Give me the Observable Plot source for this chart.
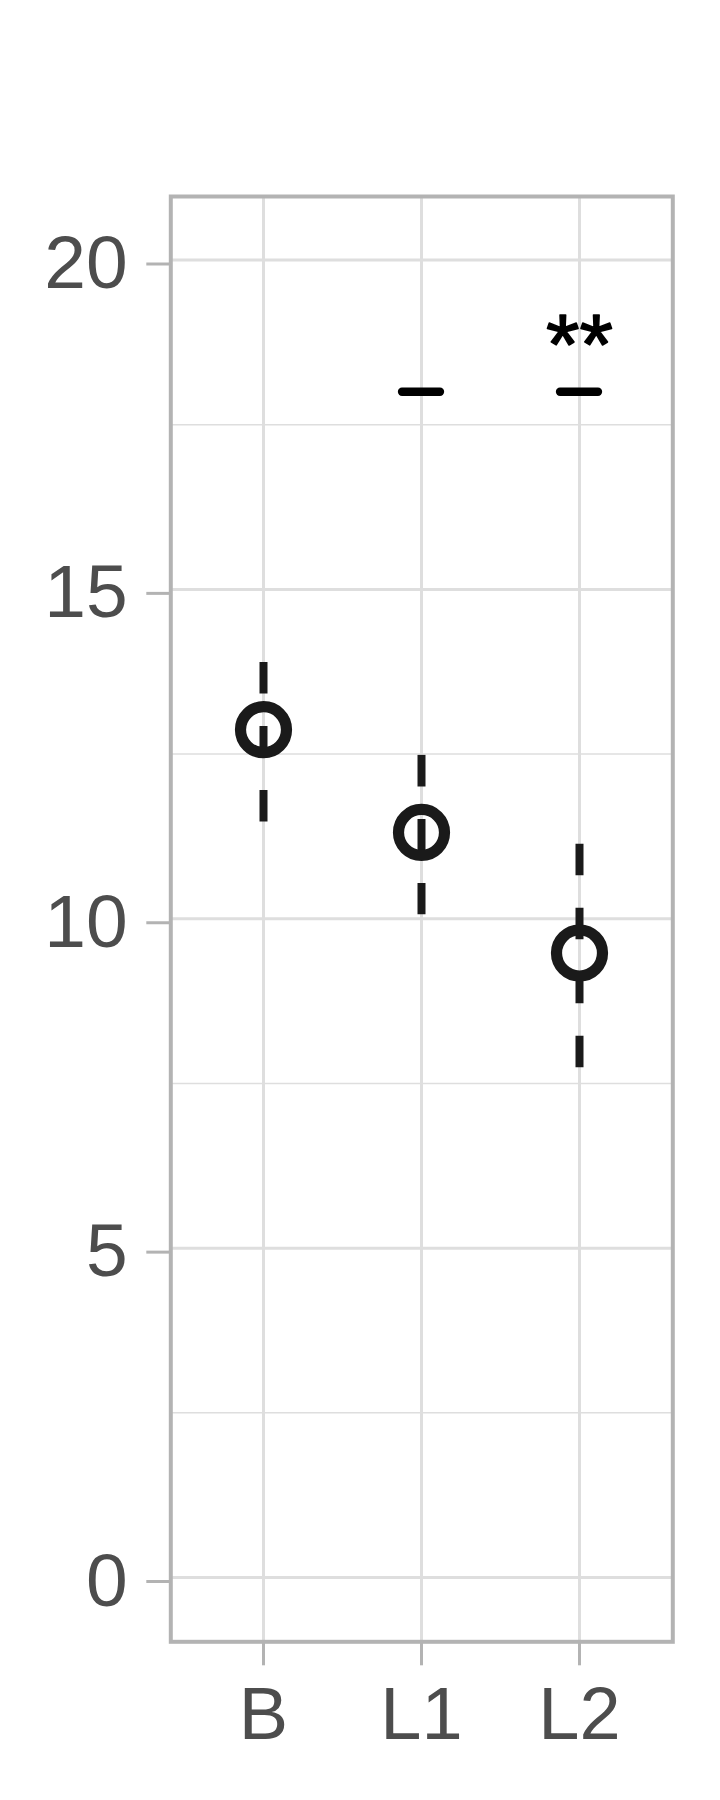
<!DOCTYPE html>
<html>
<head>
<meta charset="utf-8">
<script src="https://cdn.jsdelivr.net/npm/d3@7"></script>
<script src="https://cdn.jsdelivr.net/npm/@observablehq/plot@0.6"></script>
<style>
  html, body { margin: 0; padding: 0; background: #fff; }
  #chart svg { display: block; }
</style>
</head>
<body>
<div id="chart"></div>
<script>
// ---- data ----
const groups = ["B", "L1", "L2"];
const means = [12.87, 11.31, 9.48];
const lower = [11.47, 10.06, 7.73];
const upper = [13.89, 12.48, 11.13];

const sigGroups = ["L1", "L2"];
const sigLevel = [18, 18];

const starGroups = ["L2"];
const starLabels = ["**"];
const starLevel = [18.68];

const yMajor = [0, 5, 10, 15, 20];
const yMinor = [2.5, 7.5, 12.5, 17.5];
const yDomain = [-0.976, 20.964];

// ---- tables built from the arrays ----
const pts = groups.map((g, i) => ({group: g, mean: means[i], lo: lower[i], hi: upper[i]}));
const sig = sigGroups.map((g, i) => ({group: g, y: sigLevel[i]}));
const stars = starGroups.map((g, i) => ({group: g, y: starLevel[i], label: starLabels[i]}));

const grid = "#dedede";
const frameCol = "#b3b3b3";
const ink = "#1a1a1a";

const chart = Plot.plot({
  width: 720,
  height: 1800,
  marginLeft: 170.3,
  marginRight: 47.7,
  marginTop: 196,
  marginBottom: 158.7,
  style: {fontFamily: "'Liberation Sans', Arial, sans-serif", background: "#fff"},
  x: {type: "band", domain: groups, paddingInner: 0.76, paddingOuter: 0.4666, align: 0.5, label: null},
  y: {domain: yDomain, label: null},
  marks: [
    Plot.gridY(yMinor, {stroke: grid, strokeOpacity: 1, strokeWidth: 1.6}),
    Plot.gridY(yMajor, {stroke: grid, strokeOpacity: 1, strokeWidth: 3}),
    Plot.gridX(groups, {stroke: grid, strokeOpacity: 1, strokeWidth: 3}),
    Plot.ruleX(pts, {x: "group", y1: "hi", y2: "lo", stroke: ink, strokeWidth: 8,
      strokeDasharray: "31.5,32.5", strokeLinecap: "butt"}),
    Plot.dot(pts, {x: "group", y: "mean", r: 23, stroke: ink, strokeWidth: 11.2, fill: "none"}),
    Plot.tickY(sig, {x: "group", y: "y", stroke: "#000", strokeWidth: 8.3, strokeLinecap: "round"}),
    Plot.text(stars, {x: "group", y: "y", text: "label", fontSize: 86, fill: "#000",
      stroke: "#000", strokeWidth: 1.5, lineAnchor: "middle"}),
    Plot.frame({stroke: frameCol, strokeWidth: 4}),
    Plot.axisY(yMajor, {tickSize: 24, tickPadding: 19, fontSize: 75, stroke: frameCol, strokeWidth: 3,
      fill: "#4d4d4d", label: null, dy: 4, tickFormat: d3.format("d")}),
    Plot.axisX(groups, {tickSize: 24, tickPadding: 21, fontSize: 74, stroke: frameCol, strokeWidth: 3,
      fill: "#4d4d4d", label: null})
  ]
});
document.getElementById("chart").appendChild(chart);
</script>
</body>
</html>
